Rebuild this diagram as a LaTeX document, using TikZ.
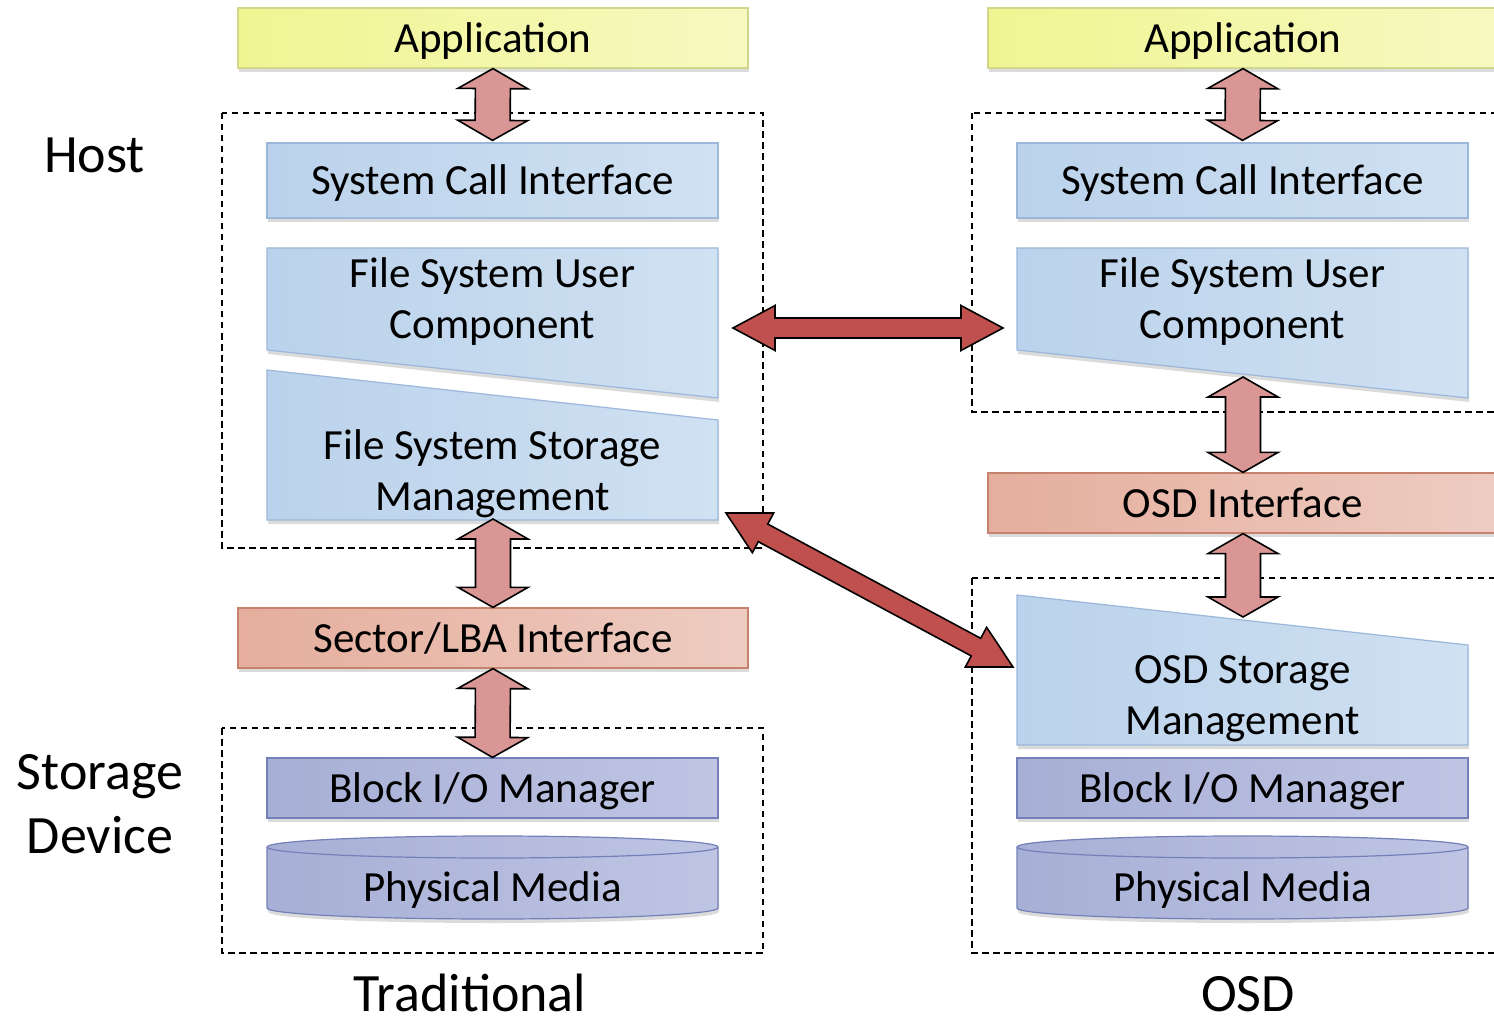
\documentclass[tikz,border=0pt]{standalone}
\usepackage{fontspec}
\setmainfont{Carlito}
\usetikzlibrary{calc,shadows}

\definecolor{appA}{HTML}{F0F592}
\definecolor{appB}{HTML}{F6F9C0}
\definecolor{appline}{HTML}{D2D68C}
\definecolor{bluA}{HTML}{BAD2EB}
\definecolor{bluB}{HTML}{D0E1F2}
\definecolor{bluline}{HTML}{9BB8DA}
\definecolor{pinkA}{HTML}{E5AE9D}
\definecolor{pinkB}{HTML}{EECCC2}
\definecolor{pinkline}{HTML}{C6826D}
\definecolor{lavA}{HTML}{A7AFD6}
\definecolor{lavB}{HTML}{BFC5E3}
\definecolor{lavline}{HTML}{7480BA}
\definecolor{arrowlight}{HTML}{D99694}
\definecolor{arrowdark}{HTML}{C0504D}

\newcommand\boxfont{\fontsize{43}{51}\selectfont}
\newcommand\tagfont{\fontsize{54}{64}\selectfont}

\tikzset{
  % outlined double arrow drawn as a polygon between two points:
  % #1 half shaft width, #2 half head width, #3 head length
  fat/.style n args={3}{to path={
    let \p1=(\tikztostart), \p2=(\tikztotarget),
        \n1={veclen(\x2-\x1,\y2-\y1)}, \n2={atan2(\y2-\y1,\x2-\x1)},
        \n3={cos(\n2)}, \n4={sin(\n2)} in
    (\p1)
    -- ({\x1+(#3)*\n3-(#2)*\n4},{\y1+(#3)*\n4+(#2)*\n3})
    -- ({\x1+(#3)*\n3-(#1)*\n4},{\y1+(#3)*\n4+(#1)*\n3})
    -- ({\x1+(\n1-#3)*\n3-(#1)*\n4},{\y1+(\n1-#3)*\n4+(#1)*\n3})
    -- ({\x1+(\n1-#3)*\n3-(#2)*\n4},{\y1+(\n1-#3)*\n4+(#2)*\n3})
    -- (\p2)
    -- ({\x1+(\n1-#3)*\n3+(#2)*\n4},{\y1+(\n1-#3)*\n4-(#2)*\n3})
    -- ({\x1+(\n1-#3)*\n3+(#1)*\n4},{\y1+(\n1-#3)*\n4-(#1)*\n3})
    -- ({\x1+(#3)*\n3+(#1)*\n4},{\y1+(#3)*\n4-(#1)*\n3})
    -- ({\x1+(#3)*\n3+(#2)*\n4},{\y1+(#3)*\n4-(#2)*\n3})
    -- cycle}},
  pipe/.style={draw=black, line width=1.6pt, fill=arrowlight, fat={17.5}{35}{20}},
  link/.style={draw=black, line width=1.6pt, fill=arrowdark, fat={10}{22.5}{42}},
  group/.style={draw=black, line width=1.3pt, dash pattern=on 6.5pt off 4.5pt},
  shadowed/.style={drop shadow={opacity=0.28, shadow xshift=1pt, shadow yshift=-4pt}},
  layer/.style={draw, line width=1.2pt, inner sep=0pt, font=\boxfont,
    text height=29pt, text depth=0pt, shadowed},
  wide/.style={layer, minimum width=510, minimum height=60},
  narrow/.style={layer, minimum width=451},
  yellowbox/.style={wide, draw=appline, left color=appA, right color=appB},
  pinkbox/.style={wide, draw=pinkline, left color=pinkA, right color=pinkB},
  bluebox/.style={narrow, minimum height=75, draw=bluline, left color=bluA, right color=bluB},
  lavbox/.style={narrow, minimum height=60, draw=lavline, left color=lavA, right color=lavB},
  slab/.style={draw=bluline, line width=1.2pt, left color=bluA, right color=bluB, shadowed},
  drum/.style={draw=lavline, line width=1.2pt, left color=lavA, right color=lavB, shadowed},
  caption/.style={font=\boxfont, align=center, inner sep=0pt},
  tag/.style={font=\tagfont, inner sep=0pt},
}

\begin{document}
\begin{tikzpicture}[x=1pt, y=-1pt]
\useasboundingbox (0,0) rectangle (1494,1016);
\clip (0,0) rectangle (1494,1016);
\fill[white] (0,0) rectangle (1494,1016);

% dashed host / device groupings
\draw[group] (222,113) rectangle (763,548);
\draw[group] (222,728) rectangle (763,953);
\draw[group] (972,113) rectangle (1513,412);
\draw[group] (972,578) rectangle (1513,953);

% ---------- traditional stack ----------
\node[yellowbox] (appL) at (493,38) {Application};
\node[bluebox] (sciL) at (492.5,180.5) {System Call Interface};
\path[slab] (267,248) -- (718,248) -- (718,398) -- (267,350) -- cycle;
\node[caption] (fsuL) at (492.5,302) {File System User\\Component};
\path[slab] (267,370) -- (718,420) -- (718,520) -- (267,520) -- cycle;
\node[caption] (fssL) at (492.5,474) {File System Storage\\Management};
\node[pinkbox] (secL) at (493,638) {Sector/LBA Interface};
\node[lavbox] (blkL) at (492.5,788) {Block I/O Manager};
\path[drum] (267,847) -- (267,908)
  arc[start angle=180, end angle=360, x radius=225.5pt, y radius=11pt]
  -- (718,847)
  arc[start angle=0, end angle=180, x radius=225.5pt, y radius=11pt] -- cycle;
\draw[lavline, line width=1.2pt] (267,847)
  arc[start angle=180, end angle=360, x radius=225.5pt, y radius=11pt];
\node[caption, text height=29pt, text depth=0pt] (pmL) at (492.5,887) {Physical Media};

% ---------- object storage stack ----------
\node[yellowbox] (appR) at (1243,38) {Application};
\node[bluebox] (sciR) at (1242.5,180.5) {System Call Interface};
\path[slab] (1017,248) -- (1468,248) -- (1468,398) -- (1017,350) -- cycle;
\node[caption] (fsuR) at (1242.5,302) {File System User\\Component};
\node[pinkbox] (osdI) at (1243,503) {OSD Interface};
\path[slab] (1017,595) -- (1468,645) -- (1468,745) -- (1017,745) -- cycle;
\node[caption] (osmR) at (1242.5,699) {OSD Storage\\Management};
\node[lavbox] (blkR) at (1242.5,788) {Block I/O Manager};
\path[drum] (1017,847) -- (1017,908)
  arc[start angle=180, end angle=360, x radius=225.5pt, y radius=11pt]
  -- (1468,847)
  arc[start angle=0, end angle=180, x radius=225.5pt, y radius=11pt] -- cycle;
\draw[lavline, line width=1.2pt] (1017,847)
  arc[start angle=180, end angle=360, x radius=225.5pt, y radius=11pt];
\node[caption, text height=29pt, text depth=0pt] (pmR) at (1242.5,887) {Physical Media};

% attachment points on the slanted layers
\coordinate (fssLbot) at (493,519);
\coordinate (fssLcorner) at (718,520);
\coordinate (fsuLe) at (718,328);
\coordinate (fsuRw) at (1017,328);
\coordinate (fsuRbot) at (1243,377);
\coordinate (osmRtop) at (1243,617);
\coordinate (osmRw) at (1017,667);

% vertical interface arrows
\draw[pipe] (appL.south) to ($(sciL.north)+(0,-2)$);
\draw[pipe] (fssLbot) to (secL.north);
\draw[pipe] (secL.south) to (blkL.north);
\draw[pipe] (appR.south) to ($(sciR.north)+(0,-2)$);
\draw[pipe] (fsuRbot) to (osdI.north);
\draw[pipe] (osdI.south) to (osmRtop);

% correspondence arrows
\draw[link] ($(fsuLe)+(15,0)$) to ($(fsuRw)+(-14,0)$);
\draw[link] ($(fssLcorner)+(8,-7)$) to ($(osmRw)+(-4,0)$);

% side and bottom labels
\node[tag, anchor=base] (host) at (94.5,173) {Host};
\node[tag, align=center] (dev) at (100,804) {Storage\\Device};
\node[tag, anchor=base] (trad) at (470,1011) {Traditional};
\node[tag, anchor=base] (osd) at (1248,1011) {OSD};
\end{tikzpicture}
\end{document}
